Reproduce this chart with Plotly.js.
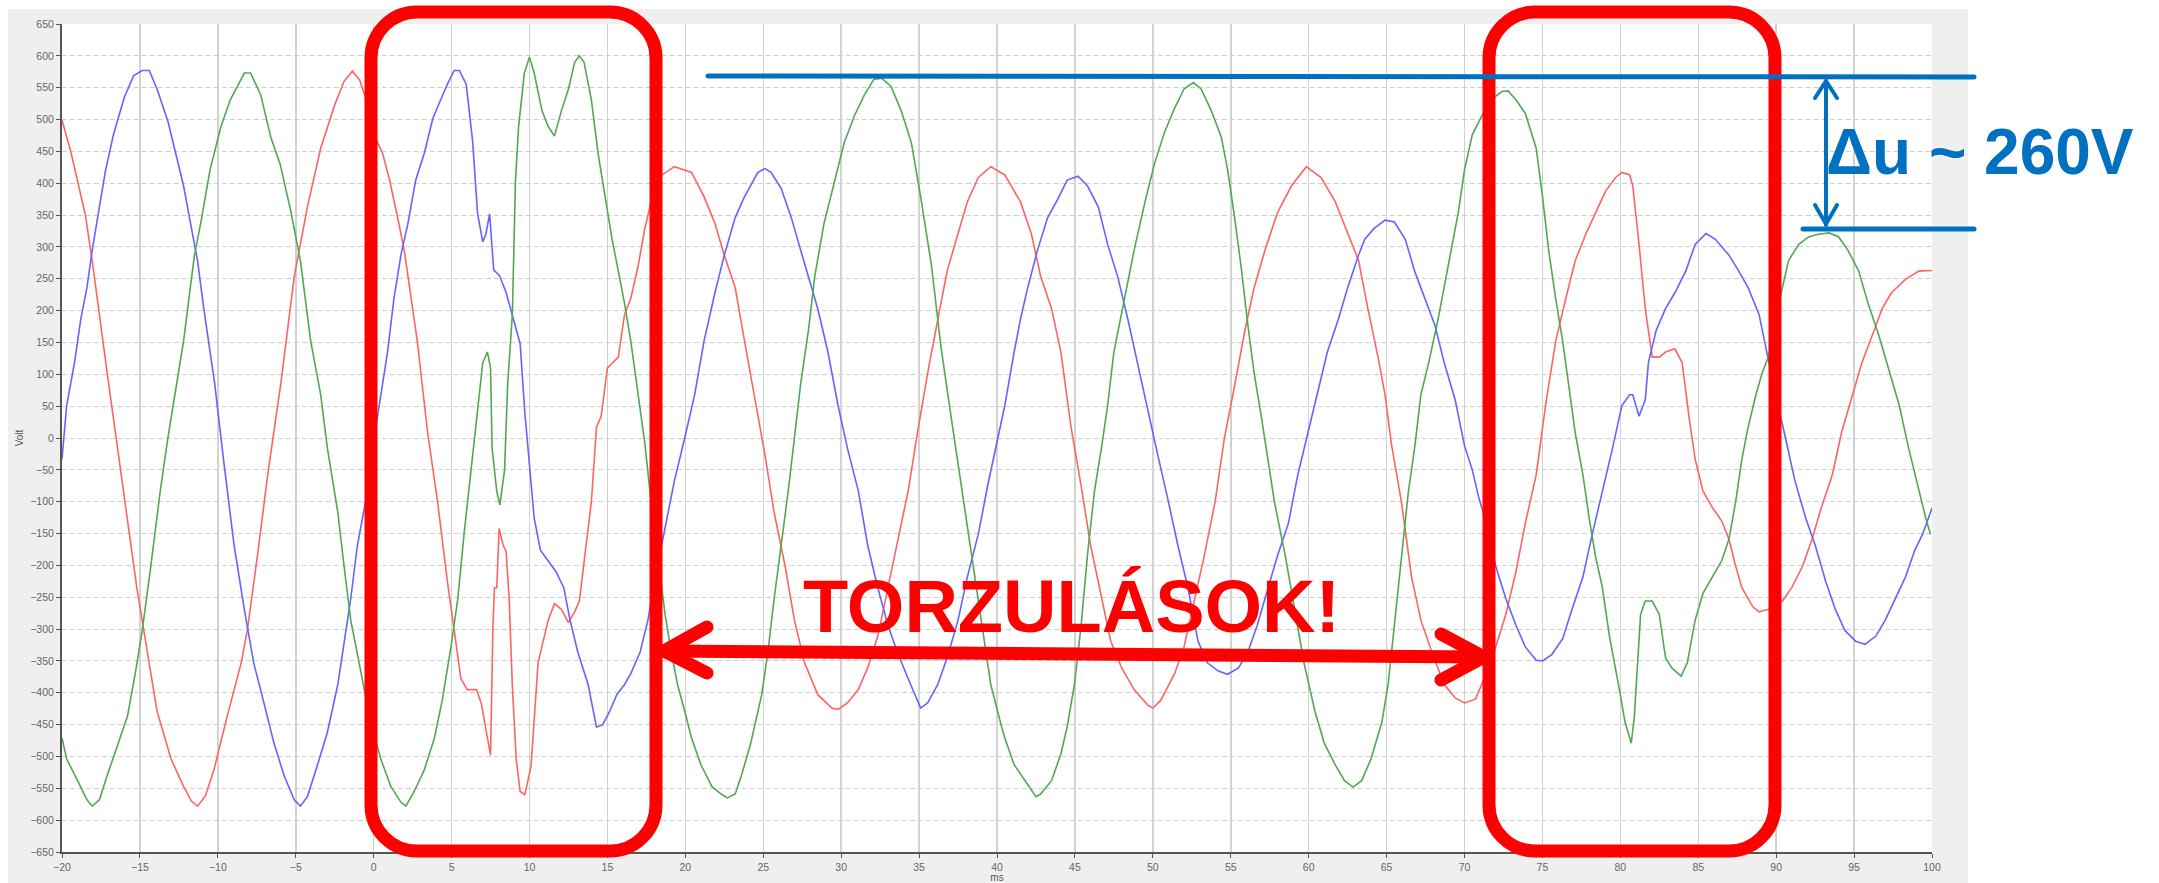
<!DOCTYPE html>
<html>
<head>
<meta charset="utf-8">
<script src="https://cdn.plot.ly/plotly-3.0.1.min.js"></script>
<style>
html,body{margin:0;padding:0;background:#fff;}
#chart{width:2159px;height:883px;}
</style>
</head>
<body>
<div id="chart"></div>
<script>
// ---------------- data ----------------
const redT = [-20,-19.45,-18.5,-18.06,-17.1,-16.1,-15.2,-13.9,-13.0,-12.2,-11.7,-11.3,-10.8,-10.25,-9.4,-8.5,-8.1,-7.46,-6.8,-5.96,-5.1,-4.25,-3.4,-2.5,-1.9,-1.36,-0.9,-0.47,0.17,0.57,1.02,1.53,1.96,2.8,3.46,4.1,4.74,5.17,5.6,6.0,6.6,6.9,7.3,7.5,7.65,7.75,7.9,8.05,8.3,8.5,8.7,8.9,9.15,9.4,9.7,10.1,10.55,10.9,11.2,11.6,12.05,12.5,12.9,13.2,13.5,13.97,14.3,14.6,15.0,15.7,16.1,16.5,16.97,17.4,17.8,18.5,19.3,20.4,21.2,21.9,22.5,23.2,23.8,24.4,25.1,25.7,26.4,27.0,27.65,28.5,29.4,29.8,30.4,31.1,31.7,32.35,33.0,33.6,34.3,34.9,35.55,36.2,36.8,37.5,38.1,38.8,39.6,40.5,41.5,42.2,42.8,43.5,44.1,44.75,45.4,46.0,46.7,47.3,48.0,48.8,49.7,50.0,50.5,51.4,52.0,52.7,53.3,54.0,54.6,55.2,55.9,56.5,57.2,58.0,58.9,59.85,60.8,61.7,62.5,63.2,63.8,64.45,64.9,65.3,65.95,66.6,67.2,67.9,68.7,69.4,70.0,70.7,71.4,72.0,72.65,73.3,73.9,74.6,75.2,75.85,76.5,77.1,77.8,78.4,79.06,79.7,80.1,80.6,80.8,81.2,81.6,82.05,82.5,82.9,83.5,83.97,84.4,84.8,85.3,85.9,86.5,86.97,87.4,87.8,88.5,88.9,89.5,90.4,91.0,91.7,92.3,92.9,93.6,94.2,94.9,95.5,96.15,96.8,97.4,98.3,99.15,100];
const redV = [499,451,350,278,102,-75,-235,-429,-504,-547,-570,-578,-562,-521,-437,-353,-301,-185,-58,85,253,363,455,523,560,576,562,531,468,447,405,347,295,152,9,-100,-227,-302,-378,-395,-395,-416,-471,-498,-300,-235,-235,-142,-168,-178,-255,-390,-505,-555,-560,-515,-353,-319,-286,-260,-269,-290,-273,-256,-193,-100,17,34,110,127,194,219,270,329,371,413,426,417,379,337,287,236,152,68,-25,-117,-201,-286,-353,-403,-424,-426,-416,-395,-361,-311,-235,-168,-83,9,102,186,262,321,371,409,426,413,371,321,254,203,135,17,-75,-168,-252,-319,-361,-395,-420,-424,-412,-370,-328,-252,-185,-100,1,76,168,236,295,354,396,426,409,371,321,279,203,127,68,-8,-100,-218,-286,-336,-387,-408,-416,-410,-370,-328,-277,-210,-134,-58,51,152,219,278,321,354,388,409,417,413,396,304,203,127,127,135,140,118,34,-33,-83,-109,-130,-159,-201,-235,-265,-273,-269,-256,-235,-201,-159,-109,-58,9,68,118,160,203,228,249,262,263];

const blueT = [-20,-19.7,-19.2,-18.8,-18.4,-18.06,-17.6,-17.2,-16.7,-16.0,-15.4,-14.85,-14.4,-13.9,-13.2,-12.6,-12.2,-11.75,-11.3,-10.9,-10.2,-9.6,-8.96,-8.3,-7.7,-7.0,-6.4,-5.75,-5.1,-4.7,-4.25,-3.6,-2.97,-2.3,-1.9,-1.47,-1.04,-0.4,0.03,0.46,0.89,1.3,1.75,2.2,2.7,3.25,3.8,4.3,4.74,5.17,5.5,5.94,6.35,6.67,7.0,7.2,7.44,7.7,8.08,8.5,8.9,9.4,9.7,9.9,10.3,10.7,11.2,11.7,12.2,12.6,13.1,13.76,14.3,14.7,15.15,15.6,16.1,16.5,17.1,17.6,18.0,18.7,19.3,19.96,20.6,21.2,21.9,22.5,23.2,23.8,24.66,25.1,25.5,26.15,26.8,27.4,28.1,28.5,29.15,29.8,30.4,31.1,31.7,32.35,33.0,33.6,34.3,34.9,35.1,35.55,36.2,36.8,37.5,38.1,38.8,39.4,40.0,40.5,41.1,41.5,41.97,42.6,43.25,43.9,44.5,45.2,45.8,46.5,47.1,47.75,48.4,49.0,49.7,50.3,51.0,51.6,52.25,52.9,53.5,54.2,54.8,55.5,56.1,56.7,57.4,58.0,58.7,59.3,59.96,60.6,61.2,61.9,62.5,63.2,63.6,64.2,64.9,65.5,66.2,66.8,67.45,68.1,68.7,69.4,70.0,70.5,70.9,71.4,72.0,72.65,73.3,73.9,74.6,75.0,75.6,76.3,76.9,77.6,78.2,78.85,79.5,80.1,80.6,80.8,81.2,81.6,81.8,82.3,82.9,83.5,84.2,84.8,85.5,86.1,86.97,87.6,88.2,88.9,89.4,89.96,90.6,91.2,91.9,92.5,93.2,93.8,94.4,95.1,95.7,96.4,97.0,97.65,98.3,98.9,99.4,100];
const blueV = [-33,51,118,186,236,295,363,421,476,535,569,577,577,548,497,438,396,337,278,203,85,-41,-168,-269,-353,-420,-479,-530,-568,-578,-563,-513,-462,-387,-319,-252,-168,-84,0,68,135,219,287,337,405,447,502,531,556,577,577,555,466,352,308,320,352,264,255,228,193,148,40,-16,-126,-176,-193,-210,-235,-286,-336,-387,-454,-450,-429,-403,-387,-370,-336,-286,-227,-143,-67,0,68,152,228,287,346,379,417,423,417,392,346,295,236,203,135,51,-16,-83,-168,-235,-294,-336,-378,-412,-424,-416,-387,-345,-286,-218,-151,-75,-8,51,135,186,236,295,346,375,405,411,396,363,304,253,186,118,43,-25,-100,-168,-235,-319,-353,-366,-371,-361,-336,-294,-235,-185,-134,-58,9,76,135,186,236,287,312,329,342,339,312,262,219,177,118,60,-12,-50,-92,-134,-201,-252,-294,-328,-349,-350,-340,-315,-269,-218,-151,-84,-16,51,68,68,34,60,118,169,203,228,262,304,321,312,287,262,236,194,135,68,0,-67,-126,-168,-227,-269,-302,-319,-324,-311,-286,-252,-218,-176,-151,-110];

const greenT = [-20,-19.7,-19.0,-18.4,-18.06,-17.6,-17.1,-16.5,-15.8,-15.3,-14.85,-14.3,-13.7,-13.2,-12.7,-12.2,-11.5,-11.1,-10.5,-9.8,-9.2,-8.3,-7.9,-7.25,-6.6,-6.0,-5.3,-4.7,-4.04,-3.4,-2.97,-2.3,-1.9,-1.47,-0.8,-0.2,0.46,1.1,1.75,2.07,2.6,3.25,3.9,4.4,4.96,5.4,5.8,6.2,6.7,7.0,7.3,7.5,7.6,7.9,8.1,8.4,8.6,8.9,9.1,9.3,9.67,10.0,10.3,10.8,11.2,11.6,12.05,12.5,12.9,13.2,13.5,13.97,14.4,14.8,15.3,15.7,16.1,16.5,16.97,17.4,17.8,18.25,18.7,19.1,19.5,19.96,20.4,21.0,21.7,22.3,22.7,23.2,23.6,24.2,24.9,25.3,25.7,26.15,26.6,27.0,27.4,27.9,28.3,28.9,29.6,30.2,30.85,31.5,32.1,32.6,33.2,33.85,34.5,35.1,35.8,36.4,37.05,37.7,38.3,38.97,39.6,40.3,40.5,41.1,41.8,42.5,42.8,43.5,44.1,44.5,44.97,45.4,45.8,46.25,46.7,47.1,47.5,48.2,48.8,49.5,50.1,50.75,51.4,52.0,52.6,53.1,53.75,54.4,54.8,55.25,55.7,56.1,56.5,56.96,57.4,57.8,58.5,59.1,59.7,60.4,61.0,61.7,62.3,62.85,63.4,64.0,64.7,65.1,65.5,65.95,66.4,66.8,67.2,67.7,68.3,68.95,69.6,70.0,70.5,71.2,71.8,72.4,72.8,73.3,73.9,74.6,75.0,75.4,75.85,76.3,76.7,77.1,77.6,78.0,78.4,78.85,79.3,79.7,80.0,80.3,80.7,80.9,81.1,81.3,81.6,82.05,82.5,82.9,83.3,83.9,84.3,84.8,85.3,85.9,86.5,86.97,87.4,87.8,88.2,88.7,89.1,89.5,89.96,90.4,90.8,91.45,92.1,92.7,93.4,94.0,94.6,95.3,95.9,96.6,97.2,97.9,98.5,99.15,99.6,99.9];
const greenV = [-471,-504,-538,-568,-578,-568,-530,-488,-437,-370,-302,-201,-84,1,76,152,287,337,421,489,531,573,573,539,472,430,354,278,152,68,-16,-117,-201,-286,-370,-446,-504,-547,-572,-578,-555,-521,-471,-412,-328,-252,-151,-58,51,118,135,110,-16,-84,-105,-50,85,194,405,489,573,598,573,514,489,474,514,548,590,600,590,531,447,388,312,262,211,152,68,-8,-100,-185,-277,-336,-387,-429,-471,-513,-547,-559,-565,-559,-530,-479,-403,-336,-252,-168,-84,0,85,169,253,337,405,464,506,539,563,565,552,514,464,379,270,144,34,-75,-176,-286,-387,-454,-471,-513,-538,-563,-559,-538,-496,-454,-387,-294,-185,-84,-16,51,135,219,295,371,430,480,518,548,558,548,514,472,421,346,262,177,102,34,-33,-100,-185,-269,-353,-429,-479,-513,-538,-548,-538,-504,-446,-387,-294,-185,-84,-16,68,118,186,270,354,421,476,510,533,544,545,531,510,455,380,295,219,152,76,9,-58,-126,-185,-235,-311,-361,-403,-446,-479,-437,-353,-277,-256,-256,-277,-345,-361,-374,-353,-286,-244,-218,-193,-159,-100,-33,17,68,102,127,186,236,279,304,316,320,322,316,295,262,211,160,110,51,-16,-84,-126,-151];

const xTickStep = 5;
const yTickStep = 50;
const xRange = [-20, 100];
const yRange = [-650, 650];

// ---------------- layout geometry (pixels) ----------------
const W = 2159, H = 883;
const L = 62, R = 1932, T = 24, B = 852;
const PW = R - L, PH = B - T;
const px = x => (x - L) / PW;
const py = y => (B - y) / PH;
const P = (x, y) => px(x).toFixed(5) + ',' + py(y).toFixed(5);

function rrect(x0, y0, x1, y1, r) {
  const k = 0.5523 * r;
  return 'M ' + P(x0 + r, y0) + ' L ' + P(x1 - r, y0) +
    ' C ' + P(x1 - r + k, y0) + ' ' + P(x1, y0 + r - k) + ' ' + P(x1, y0 + r) +
    ' L ' + P(x1, y1 - r) +
    ' C ' + P(x1, y1 - r + k) + ' ' + P(x1 - r + k, y1) + ' ' + P(x1 - r, y1) +
    ' L ' + P(x0 + r, y1) +
    ' C ' + P(x0 + r - k, y1) + ' ' + P(x0, y1 - r + k) + ' ' + P(x0, y1 - r) +
    ' L ' + P(x0, y0 + r) +
    ' C ' + P(x0, y0 + r - k) + ' ' + P(x0 + r - k, y0) + ' ' + P(x0 + r, y0) + ' Z';
}
function poly(pts) {
  return 'M ' + pts.map(p => P(p[0], p[1])).join(' L ');
}

const RED = '#ff0000', BLUE = '#0070c0';
const whiteRect = (x0, y0, x1, y1) => ({type: 'rect', xref: 'paper', yref: 'paper', layer: 'below',
  x0: px(x0), x1: px(x1), y0: py(y0), y1: py(y1), fillcolor: '#ffffff', line: {width: 0}});

const shapes = [
  whiteRect(-5, -5, W + 5, 9),
  whiteRect(-5, -5, 8, H + 5),
  whiteRect(1968, -5, W + 5, H + 5),
  // red rounded boxes
  {type: 'path', xref: 'paper', yref: 'paper', path: rrect(371, 12, 656, 851, 46), line: {color: RED, width: 13}},
  {type: 'path', xref: 'paper', yref: 'paper', path: rrect(1489, 12, 1775, 851, 46), line: {color: RED, width: 13}},
  // red double arrow
  {type: 'path', xref: 'paper', yref: 'paper', path: poly([[664, 651], [1484, 657]]), line: {color: RED, width: 13}},
  {type: 'path', xref: 'paper', yref: 'paper', path: poly([[707, 627], [664, 651], [707, 673]]), line: {color: RED, width: 13}},
  {type: 'path', xref: 'paper', yref: 'paper', path: poly([[1441, 634], [1484, 657], [1441, 680]]), line: {color: RED, width: 13}},
  // blue reference lines
  {type: 'path', xref: 'paper', yref: 'paper', path: poly([[708, 76], [1974, 77]]), line: {color: BLUE, width: 5}},
  {type: 'path', xref: 'paper', yref: 'paper', path: poly([[1803, 229], [1974, 229]]), line: {color: BLUE, width: 5}},
  // blue vertical double arrow
  {type: 'path', xref: 'paper', yref: 'paper', path: poly([[1826, 81], [1826, 225]]), line: {color: BLUE, width: 4}},
  {type: 'path', xref: 'paper', yref: 'paper', path: poly([[1815, 98], [1826, 81], [1837, 98]]), line: {color: BLUE, width: 4}},
  {type: 'path', xref: 'paper', yref: 'paper', path: poly([[1815, 205], [1826, 224], [1837, 205]]), line: {color: BLUE, width: 4}}
];

const annotations = [
  {xref: 'paper', yref: 'paper', x: px(1071), y: py(606), xanchor: 'center', yanchor: 'middle', showarrow: false,
   text: '<b>TORZULÁSOK!</b>', font: {family: 'Liberation Sans, Arial, sans-serif', size: 74, color: RED}},
  {xref: 'paper', yref: 'paper', x: px(1980), y: py(152), xanchor: 'center', yanchor: 'middle', showarrow: false,
   text: '<b>Δu ~ 260V</b>', font: {family: 'Liberation Sans, Arial, sans-serif', size: 64, color: BLUE}}
];

const lineW = 1.6;
const traces = [
  {x: redT, y: redV, type: 'scatter', mode: 'lines', name: 'L1', line: {color: '#ff6464', width: lineW}},
  {x: blueT, y: blueV, type: 'scatter', mode: 'lines', name: 'L2', line: {color: '#6464ff', width: lineW}},
  {x: greenT, y: greenV, type: 'scatter', mode: 'lines', name: 'L3', line: {color: '#52a852', width: lineW}}
];

const tickFont = {family: 'Liberation Sans, Arial, sans-serif', size: 10.5, color: '#666666'};
const layout = {
  width: W, height: H,
  margin: {l: L, r: W - R, t: T, b: H - B, pad: 0},
  paper_bgcolor: '#efefef',
  plot_bgcolor: '#ffffff',
  showlegend: false,
  xaxis: {
    range: xRange, tick0: -20, dtick: xTickStep, autorange: false,
    showgrid: true, gridcolor: '#d2d2d2', gridwidth: 1.5, griddash: 'solid',
    zeroline: false, showline: true, linecolor: '#555555', linewidth: 2,
    ticks: 'outside', ticklen: 4, tickcolor: '#555555', tickfont: tickFont,
    title: {text: 'ms', font: {family: 'Liberation Sans, Arial, sans-serif', size: 10, color: '#555555'}, standoff: 2},
    automargin: false
  },
  yaxis: {
    range: yRange, tick0: 0, dtick: yTickStep, autorange: false,
    showgrid: true, gridcolor: '#cfcfcf', gridwidth: 1, griddash: '5px,3px',
    zeroline: false, showline: true, linecolor: '#555555', linewidth: 2,
    ticks: 'outside', ticklen: 4, tickcolor: '#555555', tickfont: tickFont,
    title: {text: 'Volt', font: {family: 'Liberation Sans, Arial, sans-serif', size: 10, color: '#555555'}, standoff: 5},
    automargin: false
  },
  shapes: shapes,
  annotations: annotations
};

Plotly.newPlot('chart', traces, layout, {staticPlot: true, displayModeBar: false}).then(() => {
  document.querySelectorAll('.shapelayer path').forEach(p => {
    p.style.strokeLinecap = 'round';
    p.style.strokeLinejoin = 'round';
  });
});
</script>
</body>
</html>
